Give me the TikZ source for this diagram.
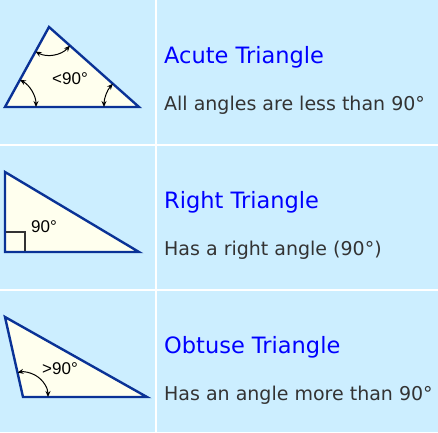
\documentclass[tikz,border=0pt]{standalone}
\usepackage{fontspec}
\setmainfont{DejaVu Sans}
\newfontfamily\arialfont{Liberation Sans}
\usetikzlibrary{angles,arrows.meta}
\definecolor{cellbg}{HTML}{CCEEFF}
\definecolor{trifill}{HTML}{FFFFEE}
\definecolor{triline}{HTML}{0A3296}
\definecolor{titleblue}{HTML}{0000FF}
\definecolor{desctext}{HTML}{333333}
\tikzset{
  tri/.style={draw=triline, fill=trifill, line width=2.4pt, line join=miter},
  anglearc/.style={draw=black, line width=1pt, {Stealth[length=6pt,width=5pt]}-{Stealth[length=6pt,width=5pt]}},
  anglelabel/.style={font=\arialfont\fontsize{17}{19}\selectfont, inner sep=0pt},
  title/.style={anchor=base west, inner sep=0pt, text=titleblue, font=\fontsize{22.5}{26}\selectfont},
  desc/.style={anchor=base west, inner sep=0pt, text=desctext, font=\fontsize{19}{22}\selectfont},
}
\begin{document}
\begin{tikzpicture}[x=1pt,y=-1pt]
\useasboundingbox (0,0) rectangle (438,432);
\fill[cellbg] (0,0) rectangle (438,432);
\fill[white] (155,0) rectangle (157,432);
\fill[white] (0,144) rectangle (438,146);
\fill[white] (0,289) rectangle (438,291);

% Acute triangle
\coordinate (aT) at (49,27);
\coordinate (aL) at (5,107);
\coordinate (aR) at (139,107);
\draw[tri] (aT) -- (aL) -- (aR) -- cycle;
\pic[anglearc, angle radius=28pt] {angle = aL--aT--aR};
\pic[anglearc, angle radius=31pt] {angle = aR--aL--aT};
\pic[anglearc, angle radius=35pt] {angle = aT--aR--aL};
\node[anglelabel] (alab) at (70,79) {<90°};

% Right triangle
\coordinate (rT) at (5,172);
\coordinate (rB) at (5,252);
\coordinate (rR) at (139,252);
\draw[tri] (rT) -- (rB) -- (rR) -- cycle;
\draw[desctext, line width=1.2pt] (5,232) -- (25,232) -- (25,252);
\draw[triline, line width=2.4pt] (rT) -- (rB) -- (rR);
\node[anglelabel] (rlab) at (44,227) {90°};

% Obtuse triangle
\coordinate (oA) at (5,317);
\coordinate (oB) at (23,397);
\coordinate (oC) at (147,397);
\draw[tri] (oA) -- (oB) -- (oC) -- cycle;
\pic[anglearc, angle radius=25pt] {angle = oC--oB--oA};
\node[anglelabel] (olab) at (60,369) {>90°};

% Texts
\node[title] (t1) at (164,63) {Acute Triangle};
\node[desc] (d1) at (164,110) {All angles are less than 90°};
\node[title] (t2) at (164,208) {Right Triangle};
\node[desc] (d2) at (164,255) {Has a right angle (90°)};
\node[title] (t3) at (164,353) {Obtuse Triangle};
\node[desc] (d3) at (164,400) {Has an angle more than 90°};
\end{tikzpicture}
\end{document}
